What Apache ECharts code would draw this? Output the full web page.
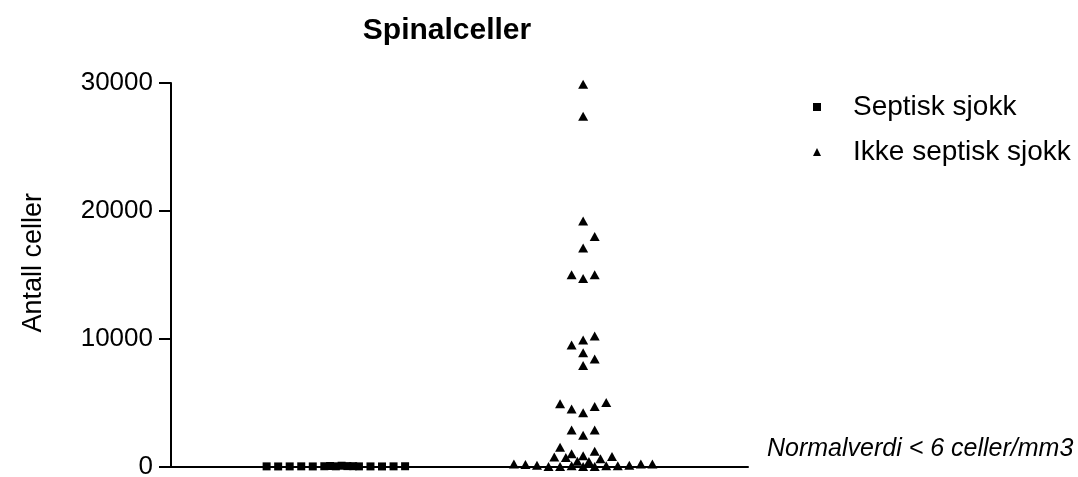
<!DOCTYPE html>
<html>
<head>
<meta charset="utf-8">
<script src="https://cdn.jsdelivr.net/npm/echarts@6/dist/echarts.min.js"></script>
<style>html,body{margin:0;padding:0;background:#fff}#c{width:1078px;height:477px}</style>
</head>
<body>
<div id="c"></div>
<script>
// Data
const titleText = 'Spinalceller';
const yAxisName = 'Antall celler';
const seriesNames = ['Septisk sjokk', 'Ikke septisk sjokk'];
const groupCenters = [1, 2.5];
const jitterStep = 0.07;
const yTicks = [0, 10000, 20000, 30000];
const noteText = 'Normalverdi < 6 celler/mm3';

// [jitter offset (steps), value]
const septic = [
  [-6, 10], [-5, 5], [-4, 8], [-3, 12], [-2, 6], [-1, 20], [-0.5, 40], [0, 15],
  [0.5, 60], [1, 30], [1.5, 25], [2, 10], [3, 8], [4, 5], [5, 12], [6, 20]
];
const nonSeptic = [
  [0, 29900], [0, 27400], [0, 19200], [1, 18000], [0, 17100],
  [-1, 15000], [0, 14700], [1, 15000],
  [-1, 9500], [0, 9900], [1, 10200], [0, 8900], [1, 8400], [0, 7900],
  [-2, 4900], [-1, 4500], [0, 4200], [1, 4700], [2, 5000],
  [-1, 2850], [0, 2450], [1, 2850],
  [-2, 1500], [-2.5, 750], [-1.5, 700], [-1, 1000], [-0.5, 420], [0, 850],
  [0.5, 390], [1, 1200], [1.5, 600], [2.5, 780],
  [-6, 200], [-5, 150], [-4, 100], [-3, 0], [-2, 0], [-1, 50], [0, 0],
  [1, 0], [2, 50], [3, 50], [4, 100], [5, 200], [6, 200]
];

function toPoints(arr, g) {
  return arr.map(d => [groupCenters[g] + d[0] * jitterStep, d[1]]);
}

const chart = echarts.init(document.getElementById('c'), null, {renderer: 'canvas'});
const font = 'Liberation Sans, Arial, sans-serif';
chart.setOption({
  animation: false,
  backgroundColor: '#fff',
  title: {
    text: titleText, left: 447, top: 16, padding: 0, textAlign: 'center',
    textStyle: {fontFamily: font, fontSize: 30, fontWeight: 'bold', color: '#000'}
  },
  legend: {
    orient: 'vertical', left: 813, top: 93, itemGap: 17, itemWidth: 8, itemHeight: 8,
    padding: 0,
    data: [{name: seriesNames[0], icon: 'rect'}, {name: seriesNames[1], icon: 'triangle'}],
    textStyle: {fontFamily: font, fontSize: 28, color: '#000', padding: [0, 0, 0, 27], lineHeight: 28}
  },
  grid: {left: 171, right: 330, top: 83, bottom: 10.5, containLabel: false, outerBoundsMode: 'none'},
  xAxis: {
    type: 'value', min: 0, max: 3.5,
    axisLine: {show: true, onZero: false, lineStyle: {color: '#000', width: 2}},
    axisTick: {show: false}, axisLabel: {show: false}, splitLine: {show: false}
  },
  yAxis: {
    type: 'value', min: yTicks[0], max: yTicks[yTicks.length - 1], interval: yTicks[1] - yTicks[0],
    name: yAxisName, nameLocation: 'middle', nameRotate: 90, nameGap: 124,
    nameTextStyle: {fontFamily: font, fontSize: 27, color: '#000', padding: [0, 0, 0, 24]},
    axisLine: {show: true, lineStyle: {color: '#000', width: 2}},
    axisTick: {show: true, length: 12, lineStyle: {color: '#000', width: 2}},
    axisLabel: {fontFamily: font, fontSize: 26, color: '#000', margin: 18, formatter: v => String(v)},
    splitLine: {show: false}
  },
  graphic: [{
    type: 'text', left: 767, top: 437,
    style: {text: noteText, fontFamily: font, fontSize: 25, fontStyle: 'italic', fill: '#000'}
  }],
  series: [
    {
      name: seriesNames[0], type: 'scatter', symbol: 'rect', symbolSize: 8,
      itemStyle: {color: '#000', opacity: 1}, data: toPoints(septic, 0)
    },
    {
      name: seriesNames[1], type: 'scatter', symbol: 'triangle', symbolSize: [10, 9],
      itemStyle: {color: '#000', opacity: 1}, data: toPoints(nonSeptic, 1)
    }
  ]
});
</script>
</body>
</html>
